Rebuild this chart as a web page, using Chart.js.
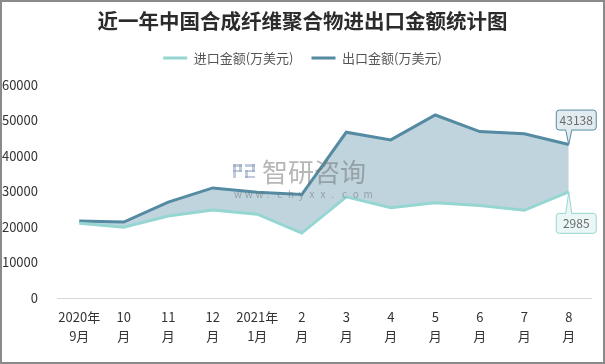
<!DOCTYPE html>
<html>
<head>
<meta charset="utf-8">
<script src="https://cdn.jsdelivr.net/npm/chart.js@4.4.1/dist/chart.umd.min.js"></script>
<style>
  html, body { margin: 0; padding: 0; background: #ffffff; }
  #wrap { position: relative; width: 605px; height: 364px; }
  canvas { display: block; }
</style>
</head>
<body>
<div id="wrap"><canvas id="c" width="605" height="364"></canvas></div>
<script>
const categories = [["2020年","9月"],["10","月"],["11","月"],["12","月"],["2021年","1月"],["2","月"],["3","月"],["4","月"],["5","月"],["6","月"],["7","月"],["8","月"]];
const importValues = [21000, 19900, 23050, 24750, 23550, 18250, 28450, 25400, 26800, 26000, 24650, 29850];
const exportValues = [21650, 21350, 26950, 30950, 29750, 29100, 46600, 44450, 51450, 46800, 46150, 43138];
const seriesNames = ["进口金额(万美元)", "出口金额(万美元)"];
const calloutTexts = ["2985", "43138"];
const yTicks = [0, 10000, 20000, 30000, 40000, 50000, 60000];
const titleText = "近一年中国合成纤维聚合物进出口金额统计图";

const FONT = "'Noto Sans CJK SC', 'Noto Sans', sans-serif";
const importColor = "#96d6d2";
const exportColor = "#558ba2";
const fillColor = "#bfd4dd";

const legendMargin = {
  id: 'legendMargin',
  beforeInit(chart) {
    const fit = chart.legend.fit;
    chart.legend.fit = function () {
      fit.bind(chart.legend)();
      this.height += 10;
    };
  }
};

function roundRect(ctx, x, y, w, h, r) {
  ctx.beginPath();
  ctx.moveTo(x + r, y);
  ctx.lineTo(x + w - r, y);
  ctx.quadraticCurveTo(x + w, y, x + w, y + r);
  ctx.lineTo(x + w, y + h - r);
  ctx.quadraticCurveTo(x + w, y + h, x + w - r, y + h);
  ctx.lineTo(x + r, y + h);
  ctx.quadraticCurveTo(x, y + h, x, y + h - r);
  ctx.lineTo(x, y + r);
  ctx.quadraticCurveTo(x, y, x + r, y);
  ctx.closePath();
}

const extras = {
  id: 'extras',
  afterDatasetsDraw(chart) {
    const ctx = chart.ctx;
    // watermark
    ctx.save();
    ctx.fillStyle = 'rgba(140,160,190,0.55)';
    ctx.fillRect(233, 164, 9, 3);
    ctx.fillRect(233, 164, 3, 14);
    ctx.fillRect(239, 164, 3, 8);
    ctx.fillRect(233, 170, 9, 2);
    ctx.fillRect(245, 164, 10, 3);
    ctx.fillRect(252, 164, 3, 8);
    ctx.fillRect(245, 170, 10, 2);
    ctx.fillRect(245, 170, 3, 8);
    ctx.fillRect(245, 176, 10, 2);
    ctx.fillStyle = 'rgba(110,110,110,0.5)';
    ctx.font = "26px " + FONT;
    ctx.textBaseline = 'middle';
    ctx.textAlign = 'left';
    ctx.fillText("智研咨询", 262, 172);
    ctx.font = "10px " + FONT;
    const w = "www.chyxx.com";
    let x = 234;
    for (const ch of w) { ctx.fillText(ch, x, 194); x += 10.8; }
    ctx.restore();

    // callouts
    const specs = [
      { ds: 1, text: calloutTexts[1], border: exportColor, bg: '#e2ebf0', above: true },
      { ds: 0, text: calloutTexts[0], border: importColor, bg: '#eaf7f6', above: false }
    ];
    specs.forEach(s => {
      const meta = chart.getDatasetMeta(s.ds);
      const pt = meta.data[meta.data.length - 1];
      const px = pt.x, py = pt.y;
      const bw = 40, bh = 20;
      const bx = px - 13;
      const by = s.above ? py - 15 - bh : py + 21;
      ctx.save();
      ctx.fillStyle = s.bg;
      ctx.strokeStyle = s.border;
      ctx.lineWidth = 1;
      roundRect(ctx, bx + 0.5, by + 0.5, bw, bh, 3);
      ctx.fill();
      ctx.stroke();
      ctx.beginPath();
      if (s.above) {
        ctx.moveTo(px - 3, by + bh + 0.5);
        ctx.lineTo(px, py);
        ctx.lineTo(px + 3, by + bh + 0.5);
      } else {
        ctx.moveTo(px - 3, by + 0.5);
        ctx.lineTo(px, py);
        ctx.lineTo(px + 3, by + 0.5);
      }
      ctx.fillStyle = s.bg;
      ctx.fill();
      ctx.stroke();
      ctx.fillStyle = s.bg;
      ctx.fillRect(px - 2.5, s.above ? by + bh - 1 : by, 5, 2.5);
      ctx.fillStyle = '#6b6b6b';
      ctx.font = "12px " + FONT;
      ctx.textAlign = 'center';
      ctx.textBaseline = 'middle';
      ctx.fillText(s.text, bx + bw / 2 + 0.5, by + bh / 2 + 1);
      ctx.restore();
    });
  },
  afterDraw(chart) {
    const ctx = chart.ctx;
    ctx.save();
    ctx.strokeStyle = '#8a8a8a';
    ctx.lineWidth = 2;
    ctx.strokeRect(1, 1, chart.width - 2, chart.height - 2);
    ctx.restore();
  }
};

new Chart(document.getElementById('c'), {
  type: 'line',
  data: {
    labels: categories,
    datasets: [
      {
        label: seriesNames[0],
        data: importValues,
        borderColor: importColor,
        backgroundColor: importColor,
        borderWidth: 3,
        pointRadius: 0,
        tension: 0,
        fill: false
      },
      {
        label: seriesNames[1],
        data: exportValues,
        borderColor: exportColor,
        backgroundColor: fillColor,
        borderWidth: 3,
        pointRadius: 0,
        tension: 0,
        fill: '-1'
      }
    ]
  },
  options: {
    responsive: false,
    animation: false,
    layout: { padding: { left: 0, right: 0, top: 0, bottom: 9 } },
    plugins: {
      filler: { drawTime: 'beforeDatasetsDraw' },
      tooltip: { enabled: false },
      title: {
        display: true,
        text: titleText,
        color: '#2b2b2b',
        font: { family: FONT, size: 20.5, weight: 'bold' },
        padding: { top: 9, bottom: 0 }
      },
      legend: {
        display: true,
        labels: {
          color: '#555555',
          font: { family: FONT, size: 13 },
          boxWidth: 24,
          boxHeight: 3,
          padding: 18,
          generateLabels(chart) {
            return chart.data.datasets.map((d, i) => ({
              text: d.label,
              fillStyle: d.borderColor,
              strokeStyle: d.borderColor,
              lineWidth: 0,
              hidden: false,
              datasetIndex: i,
              fontColor: '#555555'
            }));
          }
        }
      }
    },
    scales: {
      x: {
        offset: true,
        grid: { display: false, drawTicks: false, offset: true },
        border: { display: true, color: '#d9d9d9', width: 1 },
        ticks: {
          color: '#333333',
          font: { family: FONT, size: 13, lineHeight: 1.5 },
          padding: 9,
          maxRotation: 0,
          autoSkip: false
        }
      },
      y: {
        min: 0,
        max: 60000,
        afterFit(scale) { scale.width = 57; },
        afterBuildTicks(scale) { scale.ticks = yTicks.map(v => ({ value: v })); },
        grid: { display: false, drawTicks: false },
        border: { display: false },
        ticks: {
          color: '#333333',
          font: { family: FONT, size: 13 },
          padding: 19,
          callback: (v) => String(v)
        }
      },
      yRight: {
        position: 'right',
        min: 0,
        max: 60000,
        afterFit(scale) { scale.width = 14; },
        grid: { display: false, drawTicks: false },
        border: { display: false },
        ticks: { display: false }
      }
    }
  },
  plugins: [legendMargin, extras]
});
</script>
</body>
</html>
